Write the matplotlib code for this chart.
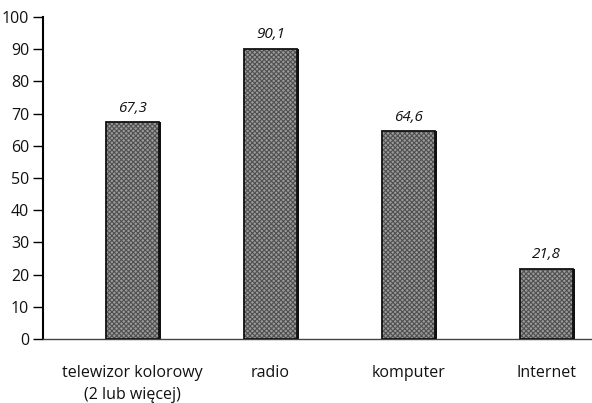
import matplotlib.pyplot as plt
import numpy as np

categories = ["telewizor kolorowy\n(2 lub więcej)", "radio", "komputer", "Internet"]
values = [67.3, 90.1, 64.6, 21.8]
value_labels = ["67,3", "90,1", "64,6", "21,8"]
yticks = [0, 10, 20, 30, 40, 50, 60, 70, 80, 90, 100]

plt.rcParams["font.family"] = ["Open Sans", "DejaVu Sans"]
plt.rcParams["hatch.linewidth"] = 0.8

fig = plt.figure(figsize=(5.92, 4.03), dpi=100)
ax = fig.add_axes([43 / 592, 64 / 403, 549 / 592, 322 / 403])

x = np.arange(len(values))
w = 0.38
# shadow on the right side
ax.bar(x + 0.015, values, width=w, color="#111111", zorder=2)
# dithered grey fill
ax.bar(x, values, width=w, color="#9a9a9a", edgecolor="#505050", linewidth=0,
       hatch="xxxxxxx", zorder=3)
# outline
ax.bar(x, values, width=w, fill=False, edgecolor="#111111", linewidth=1.3, zorder=4)

for xi, v, lab in zip(x, values, value_labels):
    ax.text(xi, v + 2.0, lab, ha="center", va="bottom", fontsize=11,
            style="italic", color="#111111")

ax.set_xlim(-0.65, 3.33)
ax.set_ylim(0, 100)
ax.set_yticks(yticks)
ax.set_xticks(x)
ax.set_xticklabels(categories, fontsize=11.5, linespacing=1.45, color="#111111")
ax.tick_params(axis="x", length=0, pad=19)
ax.tick_params(axis="y", length=7, width=1, direction="out", labelsize=11.5,
               pad=3, labelcolor="#111111")

for s in ["top", "right"]:
    ax.spines[s].set_visible(False)
ax.spines["left"].set_linewidth(1.5)
ax.spines["bottom"].set_linewidth(1.0)
ax.spines["bottom"].set_color("#444444")

plt.savefig("out.png", dpi=100)
